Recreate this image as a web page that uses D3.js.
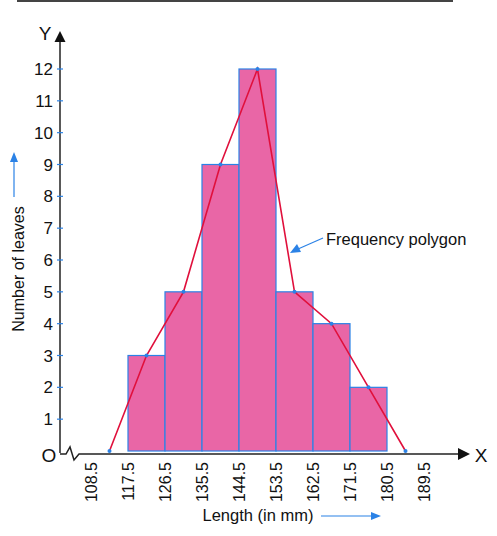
<!DOCTYPE html>
<html>
<head>
<meta charset="utf-8">
<script src="https://cdn.jsdelivr.net/npm/d3@7"></script>
<style>
  body { margin: 0; background: #fff; }
  text { font-family: "Liberation Sans", Arial, sans-serif; fill: #111; }
</style>
</head>
<body>
<script>
// data
const edges = [117.5, 126.5, 135.5, 144.5, 153.5, 162.5, 171.5, 180.5];
const freqs = [3, 5, 9, 12, 5, 4, 2];
const xTicks = [108.5, 117.5, 126.5, 135.5, 144.5, 153.5, 162.5, 171.5, 180.5, 189.5];
const yTicks = [1, 2, 3, 4, 5, 6, 7, 8, 9, 10, 11, 12];
// polygon: class marks plus the empty classes at both ends
const polyX = [113, 122, 131, 140, 149, 158, 167, 176, 185];
const polyY = [0, 3, 5, 9, 12, 5, 4, 2, 0];

const canvWidth = 497, canvHeight = 536;
const svg = d3.select("body").append("svg")
    .attr("width", canvWidth)
    .attr("height", canvHeight);

// scales
const xScale = d3.scaleLinear().domain([117.5, 180.5]).range([128, 387]);
const yScale = d3.scaleLinear().domain([0, 12]).range([451, 69]);

const pink = "#e966a6", blue = "#2b82e6", red = "#e0103c";

// top border of the page
svg.append("line")
    .attr("x1", 17).attr("x2", 453)
    .attr("y1", 1).attr("y2", 1)
    .attr("stroke", "#444").attr("stroke-width", 2);

// bars
const bins = freqs.map((f, i) => ({x0: edges[i], x1: edges[i + 1], f: f}));
svg.selectAll("rect.bar")
    .data(bins)
    .enter()
    .append("rect")
    .attr("class", "bar")
    .attr("x", d => xScale(d.x0))
    .attr("y", d => yScale(d.f))
    .attr("width", d => xScale(d.x1) - xScale(d.x0))
    .attr("height", d => yScale(0) - yScale(d.f))
    .attr("fill", pink)
    .attr("stroke", blue)
    .attr("stroke-width", 1.2);

// y axis
const y0 = yScale(0);
svg.append("line")
    .attr("x1", 60).attr("x2", 60)
    .attr("y1", y0 + 2).attr("y2", 42)
    .attr("stroke", "#222").attr("stroke-width", 1.5);
svg.append("path")
    .attr("d", "M60,31 L54.5,42 L65.5,42 Z")
    .attr("fill", "#111");
svg.append("text")
    .attr("x", 45).attr("y", 40)
    .attr("font-size", "19px")
    .attr("text-anchor", "middle")
    .text("Y");

const yt = svg.append("g");
yt.selectAll("line")
    .data(yTicks)
    .enter()
    .append("line")
    .attr("x1", 57).attr("x2", 63)
    .attr("y1", d => yScale(d)).attr("y2", d => yScale(d))
    .attr("stroke", blue).attr("stroke-width", 1.2);
yt.selectAll("text")
    .data(yTicks)
    .enter()
    .append("text")
    .attr("x", 53)
    .attr("y", d => yScale(d))
    .attr("dy", "0.36em")
    .attr("font-size", "17px")
    .attr("text-anchor", "end")
    .text(d => d);

// origin + axis break
svg.append("text")
    .attr("x", 49).attr("y", y0 + 4)
    .attr("dy", "0.36em")
    .attr("font-size", "19px")
    .attr("text-anchor", "middle")
    .text("O");
svg.append("path")
    .attr("d", `M60,${y0 + 3} L66,${y0 + 3} L70,${y0 - 4} L74,${y0 + 9} L79,${y0 + 3} L460,${y0 + 3}`)
    .attr("fill", "none")
    .attr("stroke", "#222").attr("stroke-width", 1.5);
svg.append("path")
    .attr("d", `M470,${y0 + 3} L458,${y0 - 3} L458,${y0 + 9} Z`)
    .attr("fill", "#111");
svg.append("text")
    .attr("x", 481).attr("y", y0 + 4)
    .attr("dy", "0.36em")
    .attr("font-size", "19px")
    .attr("text-anchor", "middle")
    .text("X");

// x tick labels, rotated
svg.append("g").selectAll("text")
    .data(xTicks)
    .enter()
    .append("text")
    .attr("transform", d => "translate(" + (xScale(d) + 6) + "," + (y0 + 11) + ") rotate(-90)")
    .attr("font-size", "16px")
    .attr("text-anchor", "end")
    .text(d => d.toFixed(1));

// frequency polygon
const pts = polyX.map((x, i) => [xScale(x), yScale(polyY[i])]);
svg.append("path")
    .attr("d", d3.line()(pts))
    .attr("fill", "none")
    .attr("stroke", red)
    .attr("stroke-width", 1.6);
svg.selectAll("circle")
    .data(pts)
    .enter()
    .append("circle")
    .attr("cx", d => d[0])
    .attr("cy", d => d[1])
    .attr("r", 2)
    .attr("fill", blue);

// axis titles with blue arrows
svg.append("text")
    .attr("transform", "translate(24,269) rotate(-90)")
    .attr("font-size", "16px")
    .attr("text-anchor", "middle")
    .text("Number of leaves");
svg.append("line")
    .attr("x1", 14).attr("x2", 14)
    .attr("y1", 197).attr("y2", 160)
    .attr("stroke", blue).attr("stroke-width", 1.2);
svg.append("path")
    .attr("d", "M14,152 L10,162 L18,162 Z")
    .attr("fill", blue);

svg.append("text")
    .attr("x", 258).attr("y", 521)
    .attr("font-size", "16.5px")
    .attr("text-anchor", "middle")
    .text("Length (in mm)");
svg.append("line")
    .attr("x1", 321).attr("x2", 372)
    .attr("y1", 516).attr("y2", 516)
    .attr("stroke", blue).attr("stroke-width", 1.2);
svg.append("path")
    .attr("d", "M381,516 L371,512 L371,520 Z")
    .attr("fill", blue);

// annotation
svg.append("text")
    .attr("x", 326).attr("y", 245)
    .attr("font-size", "16.5px")
    .text("Frequency polygon");
svg.append("line")
    .attr("x1", 323).attr("x2", 298)
    .attr("y1", 238).attr("y2", 249)
    .attr("stroke", blue).attr("stroke-width", 1.2);
svg.append("path")
    .attr("d", "M290,253 L297,244 L301,252 Z")
    .attr("fill", blue);
</script>
</body>
</html>
